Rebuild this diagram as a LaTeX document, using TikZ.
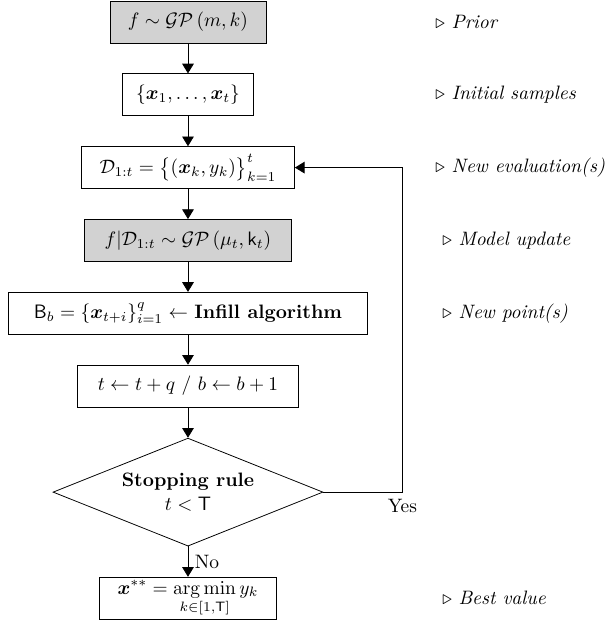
\documentclass[tikz,border=0pt]{standalone}
\usepackage{amsmath,amssymb,bm}
\usepackage{tikz}
\usetikzlibrary{shapes.geometric, arrows.meta, positioning}
\tikzstyle{block} = [rectangle, minimum height=21.6pt, inner xsep=7pt, text centered, draw=black, fill=white]
\tikzstyle{model} = [block, fill=gray!35]
\tikzstyle{decision} = [diamond, aspect=2.5, minimum width=139pt, minimum height=55.6pt, inner sep=0pt, align=center, draw=black]
\tikzstyle{note} = [anchor=west, inner sep=0pt]
\tikzstyle{arrow} = [->, >={Triangle[width=6pt,length=5pt]}]

\begin{document}
\begin{tikzpicture}[node distance=37.5pt]
        \useasboundingbox (-96.8pt,11.3pt) rectangle (216.8pt,-309.5pt);

        \node [model, minimum width=80.3pt] (prior) {$f \sim \mathcal{GP}\left(m, k\right)$};
        \node [block, below of=prior, minimum width=65.9pt] (init) {$\{\bm{x}_1, \ldots, \bm{x}_t\}$};
        \node [block, below of=init, minimum width=109.7pt] (data) {$\mathcal{D}_{1:t} = \big\{(\bm{x}_k, y_k)\big\}_{k=1}^{t}$};
        \node [model, below of=data, minimum width=106.6pt] (update) {$f|\mathcal{D}_{1:t} \sim \mathcal{GP}\left(\mu_t, \mathsf{k}_t\right)$};
        \node [block, below of=update, minimum width=184.9pt] (infill) {$\mathsf{B}_b = \{\bm{x}_{t+i}\}_{i=1}^{q} \leftarrow$ \textbf{Infill algorithm}};
        \node [block, below of=infill, minimum width=113.8pt] (incr) {$t \leftarrow t+q\ /\ b \leftarrow b+1$};

        \node [decision, below of=incr, yshift=-17.1pt] (stop) {\textbf{Stopping rule}\\$t < \mathsf{T}$};
        \node [block, below of=stop, yshift=-17.1pt, minimum width=91.2pt, inner ysep=1pt] (best) {$\displaystyle \bm{x}^{**} = \operatorname*{arg\,min}_{k\in[1,\mathsf{T}]} y_k$};

        % comments on the right
        \coordinate (notecol) at (127.2pt,0);
        \node [note] (nprior) at (prior -| notecol) {$\triangleright$ \textit{Prior}};
        \node [note] (ninit) at (init -| notecol) {$\triangleright$ \textit{Initial samples}};
        \node [note] (ndata) at (data -| notecol) {$\triangleright$ \textit{New evaluation(s)}};
        \node [note, xshift=3.6pt] (nupdate) at (update -| notecol) {$\triangleright$ \textit{Model update}};
        \node [note, xshift=3.6pt] (ninfill) at (infill -| notecol) {$\triangleright$ \textit{New point(s)}};
        \node [note, xshift=3.6pt] (nbest) at (best -| notecol) {$\triangleright$ \textit{Best value}};

        \draw [arrow] (prior) -- (init);
        \draw [arrow] (init) -- (data);
        \draw [arrow] (data) -- (update);
        \draw [arrow] (update) -- (infill);
        \draw [arrow] (infill) -- (incr);
        \draw [arrow] (incr) -- (stop);

        \coordinate [right=40.7pt of stop.east] (loop);
        \draw [arrow] (stop.east) -- (loop) |- (data.east);
        \node [below] (yes) at (loop) {Yes};
        \draw [arrow] (stop) -- node[right] (no) {No} (best);
    \end{tikzpicture}
\end{document}
